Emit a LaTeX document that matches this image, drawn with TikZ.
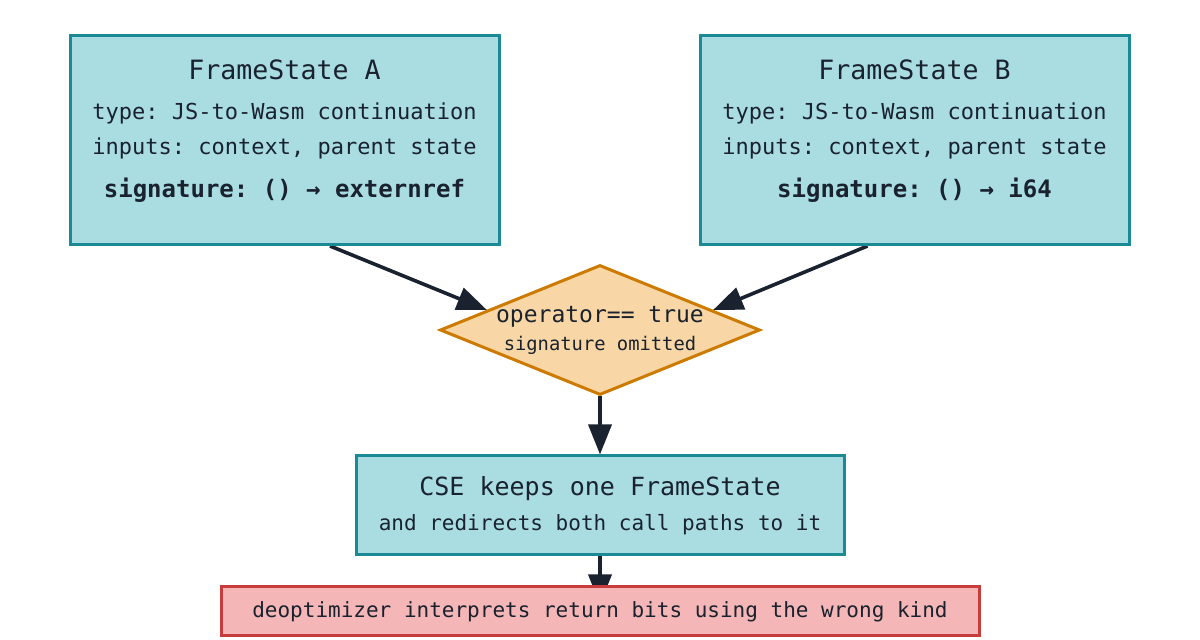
\documentclass[tikz,border=0pt]{standalone}
\usepackage{fontspec}
\setmonofont{DejaVu Sans Mono}
\usetikzlibrary{arrows.meta,positioning,calc,shapes.geometric}
\definecolor{stfill}{RGB}{169,221,226}
\definecolor{stline}{RGB}{27,138,148}
\definecolor{opfill}{RGB}{248,214,165}
\definecolor{opline}{RGB}{204,122,0}
\definecolor{badfill}{RGB}{244,182,182}
\definecolor{badline}{RGB}{200,60,60}
\definecolor{ink}{RGB}{25,34,46}
\pgfdeclarelayer{edges}
\pgfsetlayers{edges,main}

\begin{document}
\begin{tikzpicture}[
  x=0.5pt,y=-0.5pt,
  font=\ttfamily, text=ink,
  state/.style={draw=stline,fill=stfill,line width=1.5pt,align=center,
    minimum width=214.5pt,minimum height=104.5pt,text depth=11.5pt,
    font=\ttfamily\fontsize{11}{17.5}\selectfont},
  decision/.style={diamond,draw=opline,fill=opfill,line width=1.5pt,
    inner sep=0pt,minimum width=160pt,minimum height=65pt},
  keep/.style={draw=stline,fill=stfill,line width=1.5pt,align=center,
    minimum width=244pt,minimum height=49.5pt,
    font=\ttfamily\fontsize{10.5}{17.5}\selectfont},
  wrong/.style={draw=badline,fill=badfill,line width=1.5pt,
    minimum width=379pt,minimum height=24.5pt,
    font=\ttfamily\fontsize{10.5}{12}\selectfont},
  flow/.style={-{Triangle[length=15pt,width=11.5pt]},line width=1.8pt,draw=ink}
]
\useasboundingbox (0,0) rectangle (1200,640);

\node[state] (fa) at (284.5,140)
  {{\fontsize{13.3}{16}\selectfont FrameState A}\\[2.75pt]
   type: JS-to-Wasm continuation\\
   inputs: context, parent state\\[4pt]
   {\fontsize{12}{14}\selectfont\bfseries signature: () → externref}};
\node[state] (fb) at (914.5,140)
  {{\fontsize{13.3}{16}\selectfont FrameState B}\\[2.75pt]
   type: JS-to-Wasm continuation\\
   inputs: context, parent state\\[4pt]
   {\fontsize{12}{14}\selectfont\bfseries signature: () → i64}};

\node[decision] (eq) at (600,330) {};
\node[align=center,font=\ttfamily\fontsize{9.4}{14}\selectfont] (eqtext) at (eq)
  {{\fontsize{11.5}{14}\selectfont operator== true}\\
   signature omitted};

\node[keep,below=29pt of eq] (cse)
  {{\fontsize{12.5}{15}\selectfont CSE keeps one FrameState}\\
   and redirects both call paths to it};
\node[wrong,below=14.5pt of cse] (deopt)
  {deoptimizer interprets return bits using the wrong kind};

\begin{pgfonlayer}{edges}
\draw[flow] ([xshift=22.75pt]fa.south) -- ($(eq.west)!0.3!(eq.north)$);
\draw[flow] ([xshift=-23.5pt]fb.south) -- ($(eq.east)!0.3!(eq.north)$);
\draw[flow] (eq.south) -- (cse.north);
\draw[flow] (cse.south) -- ([yshift=3.5pt]deopt.center);
\end{pgfonlayer}
\end{tikzpicture}
\end{document}
